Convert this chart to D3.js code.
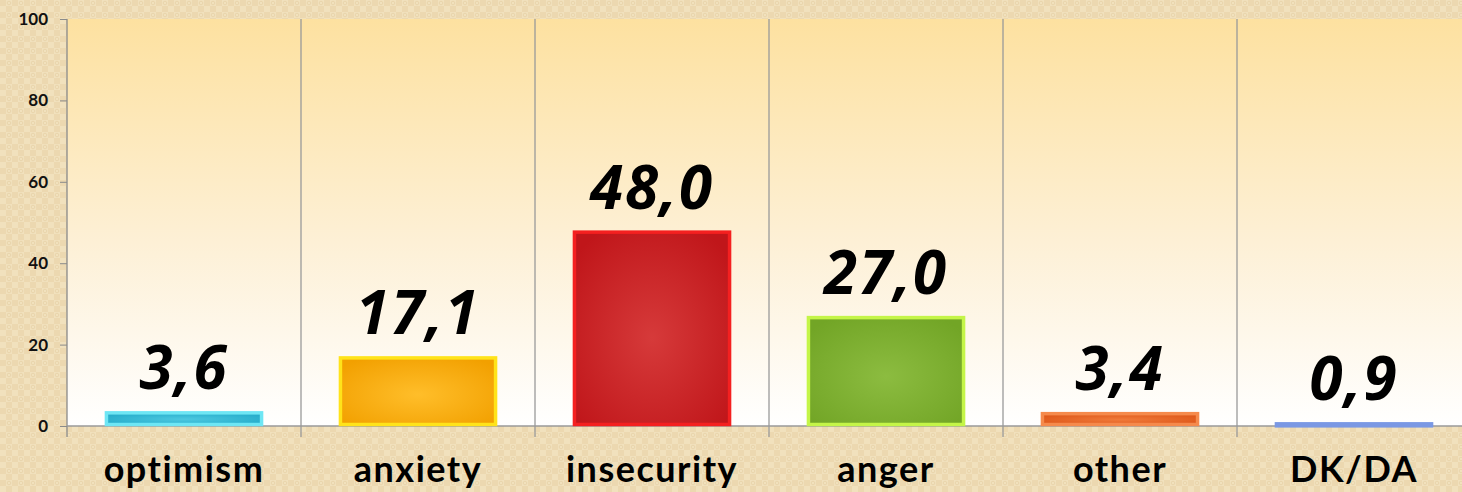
<!DOCTYPE html>
<html>
<head>
<meta charset="utf-8">
<script src="https://cdn.jsdelivr.net/npm/d3@7"></script>
<style>
  body { margin: 0; overflow: hidden; }
</style>
</head>
<body>
<script>
// data
var categories = ["optimism", "anxiety", "insecurity", "anger", "other", "DK/DA"];
var values = [3.6, 17.1, 48.0, 27.0, 3.4, 0.9];
var yTicks = [0, 20, 40, 60, 80, 100];

// bar colours: [edge, fill, centre]
var barColors = [
  ["#6ee6f4", "#22aac8", "#4cc8e0"],
  ["#ffe31a", "#f2a000", "#ffbe2a"],
  ["#f42020", "#c0161a", "#d63a3a"],
  ["#c4f548", "#72a526", "#8cbc40"],
  ["#f58a4c", "#dc5416", "#f07a3a"],
  ["#7a98e4", "#3f62b8", "#5f82d0"]
];

var W = 1462, H = 492;
var margin = {top: 19, right: -9, bottom: 66, left: 67};
var width = W - margin.left - margin.right,
    height = H - margin.top - margin.bottom;

var svg = d3.select("body").append("svg")
    .attr("width", W)
    .attr("height", H);

var defs = svg.append("defs");

// tan checkered backdrop
var pat = defs.append("pattern")
    .attr("id", "bgpat")
    .attr("width", 12).attr("height", 12)
    .attr("patternUnits", "userSpaceOnUse");
pat.append("rect").attr("width", 12).attr("height", 12).attr("fill", "#f1e1bd");
pat.append("rect").attr("width", 6).attr("height", 6).attr("fill", "#ecd8b0");
pat.append("rect").attr("x", 6).attr("y", 6).attr("width", 6).attr("height", 6).attr("fill", "#ecd8b0");
pat.append("circle").attr("cx", 9).attr("cy", 3).attr("r", 1.8)
    .attr("fill", "none").attr("stroke", "#e6d0a6").attr("stroke-width", 0.8);

var plotGrad = defs.append("linearGradient")
    .attr("id", "plotgrad")
    .attr("x1", 0).attr("y1", 0).attr("x2", 0).attr("y2", 1);
plotGrad.append("stop").attr("offset", "0%").attr("stop-color", "#fde1a0");
plotGrad.append("stop").attr("offset", "55%").attr("stop-color", "#fdf0d6");
plotGrad.append("stop").attr("offset", "100%").attr("stop-color", "#ffffff");

barColors.forEach(function(c, i) {
  var g = defs.append("radialGradient")
      .attr("id", "bar" + i)
      .attr("cx", "50%").attr("cy", "55%").attr("r", "65%");
  g.append("stop").attr("offset", "0%").attr("stop-color", c[2]);
  g.append("stop").attr("offset", "100%").attr("stop-color", c[1]);
});

svg.append("rect")
    .attr("width", W).attr("height", H)
    .attr("fill", "url(#bgpat)");

var g = svg.append("g")
    .attr("transform", "translate(" + margin.left + "," + margin.top + ")");

var x = d3.scaleBand()
    .domain(categories)
    .range([0, width])
    .paddingInner(0.32)
    .paddingOuter(0.16);

var y = d3.scaleLinear()
    .domain([0, 100])
    .range([height, 0]);

g.append("rect")
    .attr("width", width).attr("height", height)
    .attr("fill", "url(#plotgrad)");

// band dividers
var bounds = d3.range(categories.length + 1).map(function(i) { return i * width / categories.length; });

g.selectAll(".divider")
  .data(bounds.slice(1))
  .enter().append("line")
    .attr("class", "divider")
    .attr("x1", function(d) { return d; }).attr("x2", function(d) { return d; })
    .attr("y1", 0).attr("y2", height + 11)
    .attr("stroke", "#9a9a9a").attr("stroke-width", 1.3);

// y axis
var yAxis = g.append("g")
    .call(d3.axisLeft(y).tickValues(yTicks).tickSize(7).tickPadding(12));
yAxis.select(".domain").remove();
yAxis.selectAll(".tick line").attr("stroke", "#8a8a8a");
yAxis.selectAll("text")
    .attr("font-family", "'Lato', sans-serif")
    .attr("font-size", 17)
    .attr("font-weight", "bold")
    .attr("fill", "#111");
g.append("line")
    .attr("x1", 0).attr("x2", 0).attr("y1", 0).attr("y2", height + 11)
    .attr("stroke", "#8a8a8a").attr("stroke-width", 1.3);

// x axis baseline
g.append("line")
    .attr("x1", 0).attr("x2", width).attr("y1", height).attr("y2", height)
    .attr("stroke", "#9a9a9a").attr("stroke-width", 1.3);

// bars
g.selectAll(".bar")
  .data(values)
  .enter().append("rect")
    .attr("class", "bar")
    .attr("x", function(d, i) { return x(categories[i]) + 2; })
    .attr("y", function(d) { return y(d) + 1.5; })
    .attr("width", x.bandwidth() - 4)
    .attr("height", function(d) { return Math.max(height - y(d) - 3, 2); })
    .attr("fill", function(d, i) { return "url(#bar" + i + ")"; })
    .attr("stroke", function(d, i) { return barColors[i][0]; })
    .attr("stroke-width", 3.5);

// value labels
g.selectAll(".val")
  .data(values)
  .enter().append("text")
    .attr("class", "val")
    .attr("x", function(d, i) { return x(categories[i]) + x.bandwidth() / 2; })
    .attr("y", function(d) { return y(d) - 22; })
    .attr("text-anchor", "middle")
    .attr("font-family", "'Open Sans', sans-serif")
    .attr("font-weight", "bold")
    .attr("font-style", "italic")
    .attr("font-size", 60)
    .attr("letter-spacing", 2)
    .attr("fill", "#000")
    .text(function(d) { return d3.format(".1f")(d).replace(".", ","); });

// category labels
g.selectAll(".cat")
  .data(categories)
  .enter().append("text")
    .attr("class", "cat")
    .attr("x", function(d) { return x(d) + x.bandwidth() / 2; })
    .attr("y", height + 56)
    .attr("text-anchor", "middle")
    .attr("font-family", "'Lato', sans-serif")
    .attr("font-weight", "bold")
    .attr("font-size", 36)
    .attr("letter-spacing", 1.5)
    .attr("fill", "#000")
    .text(function(d) { return d; });
</script>
</body>
</html>
